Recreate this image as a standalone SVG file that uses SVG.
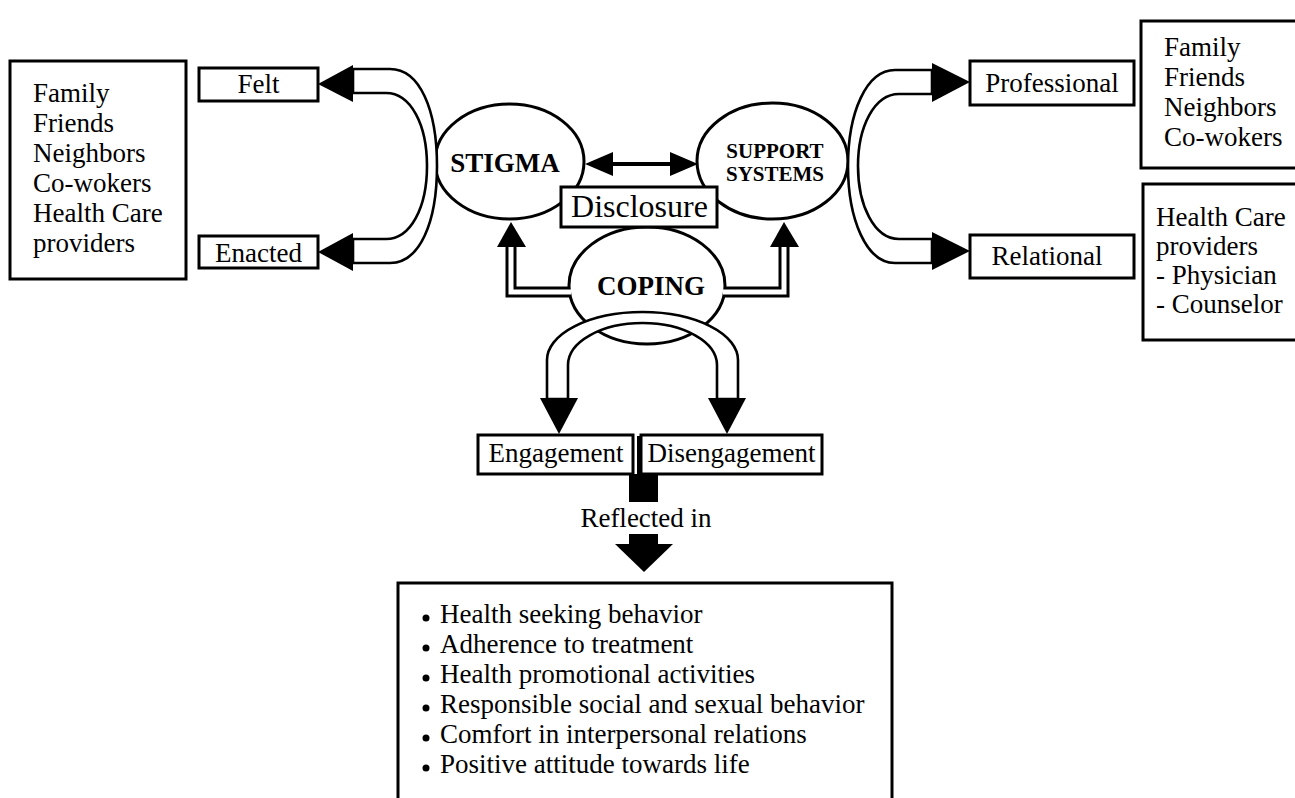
<svg xmlns="http://www.w3.org/2000/svg" width="1295" height="798" viewBox="0 0 1295 798">
  <style>
    text { font-family: "Liberation Serif", "Times New Roman", serif; fill: #000; }
    .t { font-size: 27px; }
    .c { text-anchor: middle; }
    .b { font-weight: bold; }
    .box { fill: #fff; stroke: #000; stroke-width: 3; }
    .oval { fill: #fff; stroke: #000; stroke-width: 3; }
    .band { fill: #fff; stroke: #000; stroke-width: 2.6; stroke-linejoin: round; }
    .head { fill: #000; stroke: none; }
    .pipe-o { fill: none; stroke: #000; stroke-width: 11; stroke-linejoin: miter; }
    .pipe-i { fill: none; stroke: #fff; stroke-width: 5; stroke-linejoin: miter; }
  </style>

  <rect x="0" y="0" width="1295" height="798" fill="#fff"/>

  <!-- core concepts -->
  <g id="stigma">
    <ellipse class="oval" cx="509.5" cy="161.5" rx="74.5" ry="57.5"/>
    <text class="t b c" x="505" y="172">STIGMA</text>
  </g>
  <g id="support-systems">
    <ellipse class="oval" cx="772.5" cy="161" rx="75.5" ry="58"/>
    <text class="b c" font-size="21" x="775" y="158">SUPPORT</text>
    <text class="b c" font-size="21" x="775" y="181">SYSTEMS</text>
  </g>
  <g id="coping">
    <ellipse class="oval" cx="647" cy="285.5" rx="78" ry="58.5"/>
    <text class="t b c" x="651" y="295">COPING</text>
  </g>
  <g id="disclosure">
    <rect class="box" x="561" y="187" width="156" height="40"/>
    <text class="c" font-size="32" x="639.5" y="217">Disclosure</text>
  </g>

  <!-- stigma side -->
  <g id="stigma-sources">
    <rect class="box" x="10" y="61" width="176" height="218"/>
    <text class="t" x="33" y="102">Family</text>
    <text class="t" x="33" y="132">Friends</text>
    <text class="t" x="33" y="162">Neighbors</text>
    <text class="t" x="33" y="192">Co-wokers</text>
    <text class="t" x="33" y="222">Health Care</text>
    <text class="t" x="33" y="252">providers</text>
  </g>
  <g id="felt">
    <rect class="box" x="199" y="68" width="119" height="33"/>
    <text class="t c" x="258.5" y="93">Felt</text>
  </g>
  <g id="enacted">
    <rect class="box" x="199" y="236" width="119" height="32"/>
    <text class="t c" x="258.5" y="262">Enacted</text>
  </g>

  <!-- support side -->
  <g id="professional">
    <rect class="box" x="970" y="61" width="164" height="44"/>
    <text class="t c" x="1052" y="92">Professional</text>
  </g>
  <g id="relational">
    <rect class="box" x="970" y="235" width="164" height="43"/>
    <text class="t c" x="1047" y="265">Relational</text>
  </g>
  <g id="informal-supports">
    <rect class="box" x="1141" y="21" width="170" height="147"/>
    <text class="t" x="1164" y="56">Family</text>
    <text class="t" x="1164" y="86">Friends</text>
    <text class="t" x="1164" y="116">Neighbors</text>
    <text class="t" x="1164" y="146">Co-wokers</text>
  </g>
  <g id="care-providers">
    <rect class="box" x="1143" y="184" width="170" height="156"/>
    <text class="t" x="1156" y="226">Health Care</text>
    <text class="t" x="1156" y="255">providers</text>
    <text class="t" x="1156" y="284">- Physician</text>
    <text class="t" x="1156" y="313">- Counselor</text>
  </g>

  <!-- coping styles -->
  <g id="engagement">
    <rect class="box" x="478" y="435" width="155" height="39"/>
    <text class="t c" x="556" y="462">Engagement</text>
  </g>
  <g id="disengagement">
    <rect class="box" x="641" y="435" width="181" height="39"/>
    <text class="t c" x="731.5" y="462">Disengagement</text>
  </g>

  <g id="outcomes">
    <rect class="box" x="398" y="583" width="494" height="240"/>
    <circle cx="426" cy="618" r="3.5"/>
    <circle cx="426" cy="648" r="3.5"/>
    <circle cx="426" cy="678" r="3.5"/>
    <circle cx="426" cy="708" r="3.5"/>
    <circle cx="426" cy="738" r="3.5"/>
    <circle cx="426" cy="768" r="3.5"/>
    <text class="t" x="440" y="623">Health seeking behavior</text>
    <text class="t" x="440" y="653">Adherence to treatment</text>
    <text class="t" x="440" y="683">Health promotional activities</text>
    <text class="t" x="440" y="713">Responsible social and sexual behavior</text>
    <text class="t" x="440" y="743">Comfort in interpersonal relations</text>
    <text class="t" x="440" y="773">Positive attitude towards life</text>
  </g>

  <g id="connectors">
    <!-- stigma <-> support systems -->
    <line x1="610" y1="164" x2="673" y2="164" stroke="#000" stroke-width="4"/>
    <polygon class="head" points="585,164 613,152 613,176"/>
    <polygon class="head" points="698,164 670,152 670,176"/>

    <!-- stigma -> felt / enacted -->
    <path class="band" d="M353,69 L390,69 C420,69 437,110 437,166 C437,222 420,263 390,263 L353,263 L353,239 L386,239 C411,239 427,207 427,166 C427,125 411,93 386,93 L353,93 Z"/>
    <polygon class="head" points="318,84 353,65 353,102"/>
    <polygon class="head" points="318,252 353,233 353,271"/>

    <!-- support systems -> professional / relational -->
    <path class="band" d="M932,70 L895,70 C866,70 848,113 848,166 C848,219 866,263 895,263 L932,263 L932,239 L899,239 C874,239 858,205 858,166 C858,127 874,94 899,94 L932,94 Z"/>
    <polygon class="head" points="970,82 932,63 932,102"/>
    <polygon class="head" points="970,251 932,232 932,270"/>

    <!-- coping -> stigma / support systems -->
    <path class="pipe-o" d="M570,292 L511,292 L511,246"/>
    <path class="pipe-i" d="M571,292 L511,292 L511,244"/>
    <polygon class="head" points="511,222 497,247 526,247"/>
    <path class="pipe-o" d="M724,292 L784,292 L784,246"/>
    <path class="pipe-i" d="M723,292 L784,292 L784,244"/>
    <polygon class="head" points="784,222 770,247 799,247"/>

    <!-- coping -> engagement / disengagement -->
    <path class="band" d="M547,399 L547,360 A95.5,48 0 0 1 738,360 L738,399 L717,399 L717,365 A74.5,42 0 0 0 568,365 L568,399 Z"/>
    <polygon class="head" points="559,434 540,398 578,398"/>
    <polygon class="head" points="727,434 708,398 746,398"/>

    <!-- coping styles -> outcomes -->
    <rect x="637" y="436" width="4" height="40" fill="#000"/>
    <rect x="629" y="474" width="29" height="28" fill="#000"/>
    <text class="t c" x="646" y="527">Reflected in</text>
    <rect x="629" y="534" width="29" height="11" fill="#000"/>
    <polygon class="head" points="615,544 673,544 644,572"/>
  </g>
</svg>
